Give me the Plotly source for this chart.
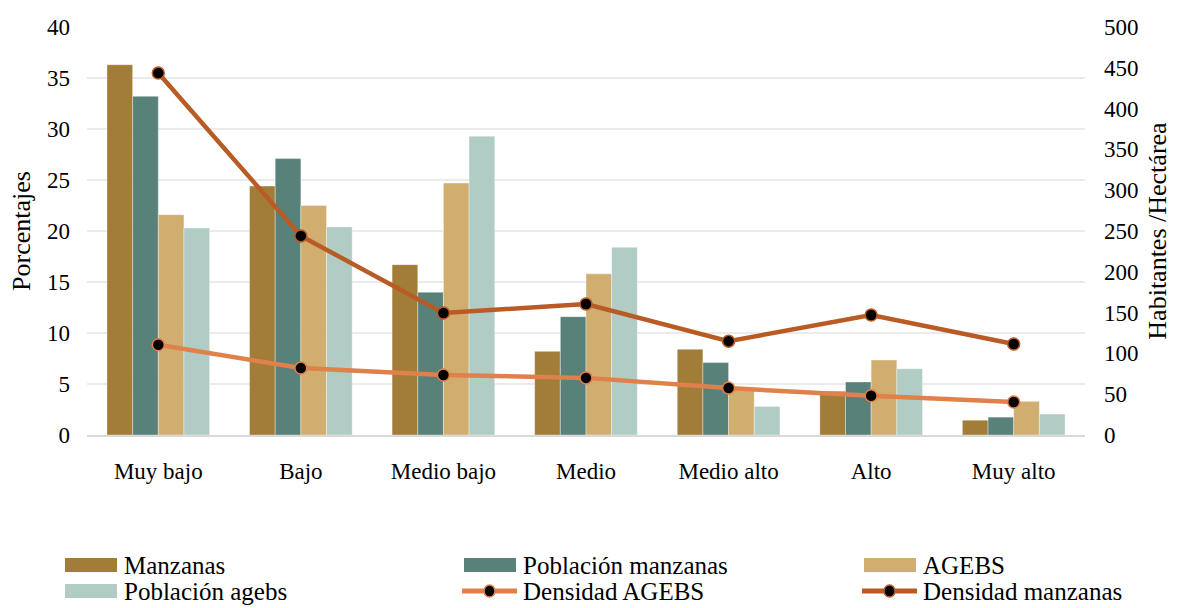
import plotly.graph_objects as go

# Niveles de marginación
categorias = ["Muy bajo", "Bajo", "Medio bajo", "Medio", "Medio alto", "Alto", "Muy alto"]

# Porcentajes (eje izquierdo)
manzanas = [36.3, 24.4, 16.7, 8.2, 8.4, 4.3, 1.45]
poblacion_manzanas = [33.2, 27.1, 14.0, 11.6, 7.1, 5.2, 1.75]
agebs = [21.6, 22.5, 24.7, 15.8, 4.5, 7.35, 3.3]
poblacion_agebs = [20.3, 20.4, 29.3, 18.4, 2.8, 6.5, 2.05]

# Densidad en habitantes por hectárea (eje derecho)
densidad_agebs = [110.5, 82.0, 73.5, 70.0, 57.5, 48.0, 40.5]
densidad_manzanas = [443.5, 244.0, 149.5, 160.5, 115.0, 147.0, 111.5]

FONT = "Liberation Serif, Times New Roman, serif"
C_MANZ = "#A17D38"
C_PMANZ = "#58817A"
C_AGEBS = "#D0AE70"
C_PAGEBS = "#B1CBC5"
C_DAGEBS = "#E0804A"
C_DMANZ = "#B95B25"

W, H = 1177, 608
L, R, T, B = 87, 92, 27, 173
PW, PH = W - L - R, H - T - B

fig = go.Figure()

for nombre, valores, color in [
    ("Manzanas", manzanas, C_MANZ),
    ("Población manzanas", poblacion_manzanas, C_PMANZ),
    ("AGEBS", agebs, C_AGEBS),
    ("Población agebs", poblacion_agebs, C_PAGEBS),
]:
    fig.add_trace(go.Bar(
        x=categorias, y=valores, name=nombre,
        marker=dict(color=color, line=dict(width=0.6, color="rgba(255,255,255,0.6)")),
        showlegend=False,
    ))

for nombre, valores, color in [
    ("Densidad AGEBS", densidad_agebs, C_DAGEBS),
    ("Densidad manzanas", densidad_manzanas, C_DMANZ),
]:
    fig.add_trace(go.Scatter(
        x=categorias, y=valores, name=nombre, yaxis="y2",
        mode="lines+markers",
        line=dict(color=color, width=4.5),
        marker=dict(size=12, color="black", line=dict(color=color, width=1.5)),
        showlegend=False,
    ))


def px_x(px):
    return (px - L) / PW


def px_y(py):
    return (H - B - py) / PH


# Leyenda dibujada a mano: dos filas de tres entradas
shapes = []
annotations = []
FILA1, FILA2 = 565, 591
entradas = [
    ("bar", "Manzanas", C_MANZ, 65, FILA1),
    ("bar", "Población manzanas", C_PMANZ, 464, FILA1),
    ("bar", "AGEBS", C_AGEBS, 864, FILA1),
    ("bar", "Población agebs", C_PAGEBS, 65, FILA2),
    ("line", "Densidad AGEBS", C_DAGEBS, 462, FILA2),
    ("line", "Densidad manzanas", C_DMANZ, 862, FILA2),
]
for tipo, texto, color, x0, yc in entradas:
    if tipo == "bar":
        shapes.append(dict(type="rect", xref="paper", yref="paper",
                           x0=px_x(x0), x1=px_x(x0 + 52), y0=px_y(yc - 7), y1=px_y(yc + 7),
                           fillcolor=color, line=dict(width=0)))
        tx = x0 + 57
    else:
        shapes.append(dict(type="line", xref="paper", yref="paper",
                           x0=px_x(x0), x1=px_x(x0 + 55), y0=px_y(yc), y1=px_y(yc),
                           line=dict(color=color, width=5)))
        cx = x0 + 27.5
        shapes.append(dict(type="circle", xref="paper", yref="paper",
                           x0=px_x(cx - 5.5), x1=px_x(cx + 5.5), y0=px_y(yc - 6), y1=px_y(yc + 6),
                           fillcolor="black", line=dict(color=color, width=1.5)))
        tx = x0 + 59
    annotations.append(dict(xref="paper", yref="paper", x=px_x(tx), y=px_y(yc),
                            xanchor="left", yanchor="middle", showarrow=False,
                            text=texto, font=dict(family=FONT, size=25, color="black")))

fig.update_layout(
    width=W, height=H,
    margin=dict(l=L, r=R, t=T, b=B, autoexpand=False),
    paper_bgcolor="white", plot_bgcolor="white",
    barmode="group", bargap=0.28, bargroupgap=0,
    font=dict(family=FONT, size=23, color="black"),
    showlegend=False,
    xaxis=dict(
        type="category", range=[-0.5, 6.5],
        showgrid=False, showline=True, linecolor="#D9D9D9", linewidth=2,
        ticks="", ticklabelstandoff=14,
        tickfont=dict(family=FONT, size=23, color="black"),
    ),
    yaxis=dict(
        range=[0, 40], dtick=5, showgrid=True, gridcolor="#EBEBEB", gridwidth=1.5,
        zeroline=False, showline=False, ticks="", ticklabelstandoff=16,
        tickfont=dict(family=FONT, size=23, color="black"),
        title=dict(text="Porcentajes", font=dict(family=FONT, size=26, color="black"), standoff=8),
    ),
    yaxis2=dict(
        range=[0, 500], dtick=50, overlaying="y", side="right",
        showgrid=False, zeroline=False, showline=False, ticks="", ticklabelstandoff=18,
        tickfont=dict(family=FONT, size=23, color="black"),
        title=dict(text="Habitantes /Hectárea", font=dict(family=FONT, size=26, color="black"), standoff=10),
    ),
    shapes=shapes,
    annotations=annotations,
)

fig.write_html("out.html")
